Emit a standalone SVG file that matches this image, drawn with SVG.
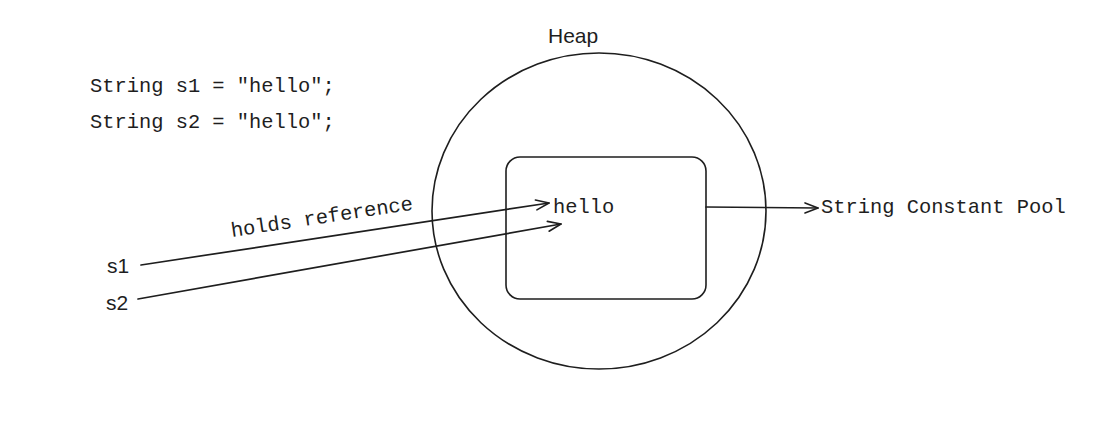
<svg xmlns="http://www.w3.org/2000/svg" width="1105" height="445" viewBox="0 0 1105 445">
  <style>
    .mono { font-family: "Liberation Mono", "DejaVu Sans Mono", monospace; font-size: 20.4px; fill: #1e1e1e; }
    .hand { font-family: "Liberation Sans", Arial, sans-serif; font-size: 21px; fill: #1e1e1e; }
    .shape { fill: none; stroke: #1e1e1e; stroke-width: 1.6; }
    .conn { fill: none; stroke: #1e1e1e; stroke-width: 1.7; stroke-linecap: round; }
  </style>
  <defs>
    <marker id="arrow" viewBox="-15 -10 20 20" markerWidth="20" markerHeight="20" refX="0" refY="0" orient="auto" markerUnits="userSpaceOnUse">
      <path d="M -13 -5 L 0 0 L -13 5" fill="none" stroke="#1e1e1e" stroke-width="1.6" stroke-linecap="round" stroke-linejoin="round"/>
    </marker>
  </defs>
  <rect width="1105" height="445" fill="#ffffff"/>

  <g id="code">
    <text class="mono" x="90" y="92">String s1 = "hello";</text>
    <text class="mono" x="90" y="128">String s2 = "hello";</text>
  </g>

  <g id="heap">
    <ellipse class="shape" cx="599" cy="211" rx="167" ry="158"/>
    <text class="hand" x="548" y="43">Heap</text>
  </g>

  <g id="pool">
    <rect class="shape" x="506" y="157" width="200" height="142" rx="14" ry="14"/>
    <text class="mono" x="553" y="213">hello</text>
  </g>

  <g id="s1">
    <text class="hand" x="107" y="273">s1</text>
  </g>
  <g id="s2">
    <text class="hand" x="106" y="310">s2</text>
  </g>

  <g id="pool-label">
    <text class="mono" x="821" y="213">String Constant Pool</text>
  </g>

  <g id="connectors">
    <line class="conn" x1="141" y1="265" x2="549" y2="203" marker-end="url(#arrow)"/>
    <line class="conn" x1="138" y1="299" x2="561" y2="224" marker-end="url(#arrow)"/>
    <line class="conn" x1="706" y1="207" x2="818" y2="208" marker-end="url(#arrow)"/>
    <text class="mono" transform="translate(232 237) rotate(-8.6)">holds reference</text>
  </g>
</svg>
